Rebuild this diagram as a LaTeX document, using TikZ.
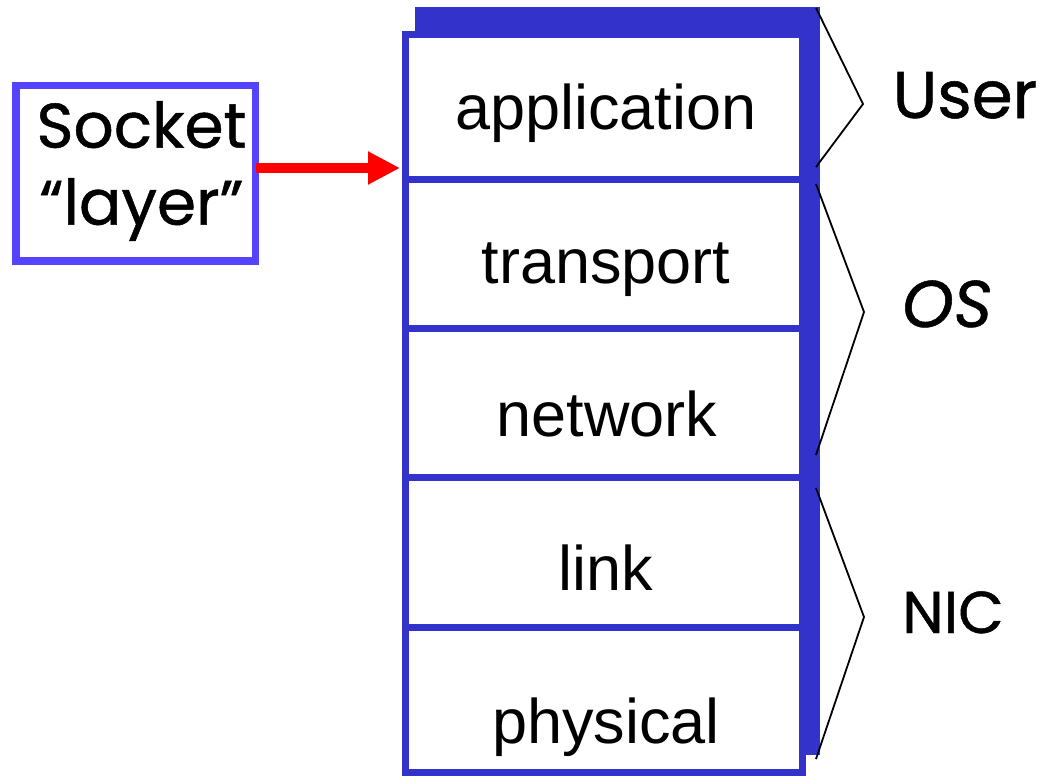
\documentclass[tikz,border=0pt]{standalone}
\usepackage{fontspec}
\setmainfont{Liberation Sans}
\newfontfamily\comicfont[FakeBold=0.8]{Poppins}
\usetikzlibrary{arrows.meta}
\definecolor{stackblue}{HTML}{3333CC}
\definecolor{sockblue}{HTML}{5544FF}
\begin{document}
\begin{tikzpicture}[x=1pt,y=-1pt,
  layerbox/.style={draw=stackblue, line width=7pt, fill=white, minimum width=397pt, inner sep=0pt, outer sep=0pt},
  layertext/.style={anchor=base, font=\fontsize{63}{70}\selectfont, inner sep=0pt},
  comic/.style={font=\comicfont\fontsize{#1}{#1}\selectfont, inner sep=0pt, anchor=base},
  brace/.style={draw=black, line width=1.8pt, line join=miter}]
\useasboundingbox (0,0) rectangle (1051,776);
% shadow of the stack
\node[fill=stackblue, inner sep=0pt, outer sep=0pt, minimum width=405pt, minimum height=748pt] (shadow) at (617.5,381) {};
% layers
\node[layerbox, minimum height=144.5pt] (app)   at (604,107.25) {};
\node[layerbox, minimum height=148.5pt] (trans) at (604,253.75) {};
\node[layerbox, minimum height=149.5pt] (net)   at (604,402.75) {};
\node[layerbox, minimum height=149.5pt] (link)  at (604,552.25) {};
\node[layerbox, minimum height=145.5pt] (phys)  at (604,699.75) {};
\node[layertext] (tapp)   at (606,129) {application};
\node[layertext] (ttrans) at (606,283) {transport};
\node[layertext] (tnet)   at (607,436) {network};
\node[layertext] (tlink)  at (606,590) {link};
\node[layertext] (tphys)  at (606,743) {physical};
% socket layer
\node[draw=sockblue, line width=7.5pt, fill=white, inner sep=0pt, outer sep=0pt, minimum width=239.5pt, minimum height=175.5pt] (sock) at (135.75,173.25) {};
\node[font=\comicfont\fontsize{63}{77}\selectfont, align=center, inner sep=0pt] (socktext) at (141.5,171) {Socket\\“layer”};
\coordinate (arrowy) at (0,168);
\draw[red, line width=10.5pt, -{Triangle[length=32pt,width=31pt]}, shorten >=5.5pt] (sock.east |- arrowy) -- (app.west |- arrowy);
% braces
\coordinate (u1) at (816,8);   \coordinate (u2) at (863,104); \coordinate (u3) at (816,167);
\coordinate (o1) at (816,184); \coordinate (o2) at (864,312); \coordinate (o3) at (816,455);
\coordinate (n1) at (816,488); \coordinate (n2) at (864,617); \coordinate (n3) at (816,759);
\draw[brace] (u1) -- (u2) -- (u3);
\draw[brace] (o1) -- (o2) -- (o3);
\draw[brace] (n1) -- (n2) -- (n3);
\node[comic=66] (user) at (965,118) {User};
\node[comic=66, font=\comicfont\itshape\fontsize{66}{66}\selectfont] (os) at (947,327) {OS};
\node[comic=59] (nic) at (953,633) {NIC};
\end{tikzpicture}
\end{document}
